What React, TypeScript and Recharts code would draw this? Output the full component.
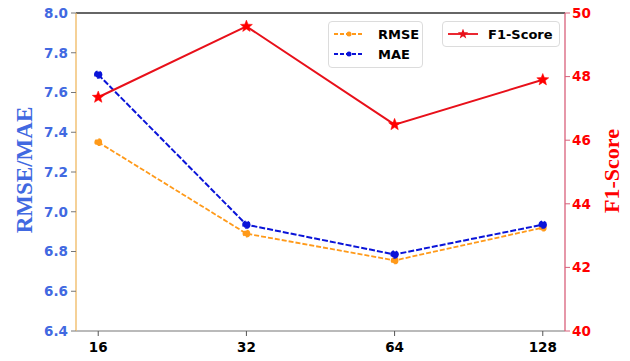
import React from 'react';
import { LineChart, Line, XAxis, YAxis, ReferenceLine } from 'recharts';

// Batch size categories and measured metrics
const categories = ['16', '32', '64', '128'];
const rmse = [7.35, 6.89, 6.755, 6.92];
const mae = [7.69, 6.935, 6.785, 6.935];
const f1 = [47.35, 49.58, 46.49, 47.9];

const leftTicks = [6.4, 6.6, 6.8, 7.0, 7.2, 7.4, 7.6, 7.8, 8.0];
const rightTicks = [40, 42, 44, 46, 48, 50];

const data = categories.map((c, i) => ({
  idx: i,
  label: c,
  rmse: rmse[i],
  mae: mae[i],
  f1: f1[i],
}));

const W = 630;
const H = 361;
const tickFont = 'DejaVu Sans, sans-serif';
const blue = '#4169e1';
const red = '#ff0000';

const starPath = (cx: number, cy: number, ro: number, ri: number) => {
  const pts: string[] = [];
  for (let k = 0; k < 10; k++) {
    const r = k % 2 === 0 ? ro : ri;
    const a = -Math.PI / 2 + (k * Math.PI) / 5;
    pts.push(`${cx + r * Math.cos(a)},${cy + r * Math.sin(a)}`);
  }
  return `M${pts.join('L')}Z`;
};

const StarDot = (props: any) => {
  const { cx, cy, index } = props;
  if (cx == null || cy == null) return <g key={`s-${index}`} />;
  return <path key={`s-${index}`} d={starPath(cx, cy, 6.3, 2.7)} fill={red} stroke={red} strokeWidth={0.5} />;
};

const LegendLine = ({ color, dash, star }: { color: string; dash?: string; star?: boolean }) => (
  <svg width={32} height={10} style={{ display: 'block' }}>
    <line x1={1} y1={5} x2={31} y2={5} stroke={color} strokeWidth={1.8} strokeDasharray={dash} />
    {star ? (
      <path d={starPath(16, 5, 5.5, 2.3)} fill={color} />
    ) : (
      <circle cx={16} cy={5} r={2.5} fill={color} />
    )}
  </svg>
);

const legendBox: React.CSSProperties = {
  position: 'absolute',
  background: 'rgba(255,255,255,0.85)',
  border: '1px solid #dcdcdc',
  borderRadius: 4,
  fontFamily: tickFont,
  fontWeight: 'bold',
  fontSize: 13,
  color: '#000',
  boxSizing: 'border-box',
};

const legendRow: React.CSSProperties = {
  position: 'absolute',
  display: 'flex',
  alignItems: 'center',
  height: 16,
};

export default function App() {
  return (
    <div style={{ position: 'absolute', left: 0, top: 0, width: W, height: H, background: '#fff' }}>
      <LineChart width={W} height={H} data={data} margin={{ top: 13, right: 0, bottom: 0, left: 0 }}>
        <XAxis
          dataKey="idx"
          type="number"
          domain={[-0.15, 3.15]}
          ticks={[0, 1, 2, 3]}
          tickFormatter={(v: number) => categories[v]}
          height={30}
          tickSize={5}
          tickMargin={6}
          axisLine={{ stroke: '#777', strokeWidth: 1.2 }}
          tickLine={{ stroke: '#555' }}
          tick={{ fill: '#000', fontSize: 13.5, fontWeight: 'bold', fontFamily: tickFont }}
          allowDataOverflow
        />
        <YAxis
          yAxisId="left"
          orientation="left"
          width={76}
          domain={[6.4, 8.0]}
          ticks={leftTicks}
          tickFormatter={(v: number) => v.toFixed(1)}
          tickSize={5}
          tickMargin={3}
          axisLine={{ stroke: '#f0b860', strokeWidth: 1.3 }}
          tickLine={{ stroke: '#777' }}
          tick={{ fill: blue, fontSize: 13.5, fontWeight: 'bold', fontFamily: tickFont }}
          label={{
            content: () => (
              <text
                x={24}
                y={170}
                transform="rotate(-90 24 170)"
                textAnchor="middle"
                dominantBaseline="central"
                fill={blue}
                fontSize={23}
                fontWeight="bold"
                fontFamily="Liberation Serif, serif"
              >
                RMSE/MAE
              </text>
            ),
          }}
        />
        <YAxis
          yAxisId="right"
          orientation="right"
          width={65}
          domain={[40, 50]}
          ticks={rightTicks}
          tickSize={5}
          tickMargin={2}
          axisLine={{ stroke: '#d9607a', strokeWidth: 1.3 }}
          tickLine={{ stroke: '#d9607a' }}
          tick={{ fill: red, fontSize: 13.5, fontWeight: 'bold', fontFamily: tickFont }}
          label={{
            content: () => (
              <text
                x={611}
                y={171}
                transform="rotate(-90 611 171)"
                textAnchor="middle"
                dominantBaseline="central"
                fill={red}
                fontSize={22}
                fontWeight="bold"
                fontFamily="Liberation Serif, serif"
              >
                F1-Score
              </text>
            ),
          }}
        />
        <ReferenceLine yAxisId="left" y={8.0} stroke="#333" strokeWidth={1.4} />
        <Line
          yAxisId="left"
          dataKey="rmse"
          stroke="#ff9a1a"
          strokeWidth={1.8}
          strokeDasharray="5 2"
          dot={{ r: 3, fill: '#ff9a1a', stroke: '#ff9a1a' }}
          isAnimationActive={false}
        />
        <Line
          yAxisId="left"
          dataKey="mae"
          stroke="#0a14d8"
          strokeWidth={2}
          strokeDasharray="6 2"
          dot={{ r: 3.2, fill: '#0a14d8', stroke: '#0a14d8' }}
          isAnimationActive={false}
        />
        <Line
          yAxisId="right"
          dataKey="f1"
          stroke="#e8101a"
          strokeWidth={2}
          dot={StarDot}
          isAnimationActive={false}
        />
      </LineChart>

      <div style={{ ...legendBox, left: 328, top: 21, width: 95, height: 47 }}>
        <div style={{ ...legendRow, left: 4, top: 4 }}>
          <LegendLine color="#ff9a1a" dash="4 2" />
          <span style={{ marginLeft: 13 }}>RMSE</span>
        </div>
        <div style={{ ...legendRow, left: 4, top: 24 }}>
          <LegendLine color="#0a14d8" dash="4 2" />
          <span style={{ marginLeft: 13 }}>MAE</span>
        </div>
      </div>
      <div style={{ ...legendBox, left: 442, top: 21, width: 118, height: 26 }}>
        <div style={{ ...legendRow, left: 4, top: 4 }}>
          <LegendLine color="#e8101a" star />
          <span style={{ marginLeft: 9 }}>F1-Score</span>
        </div>
      </div>
    </div>
  );
}
